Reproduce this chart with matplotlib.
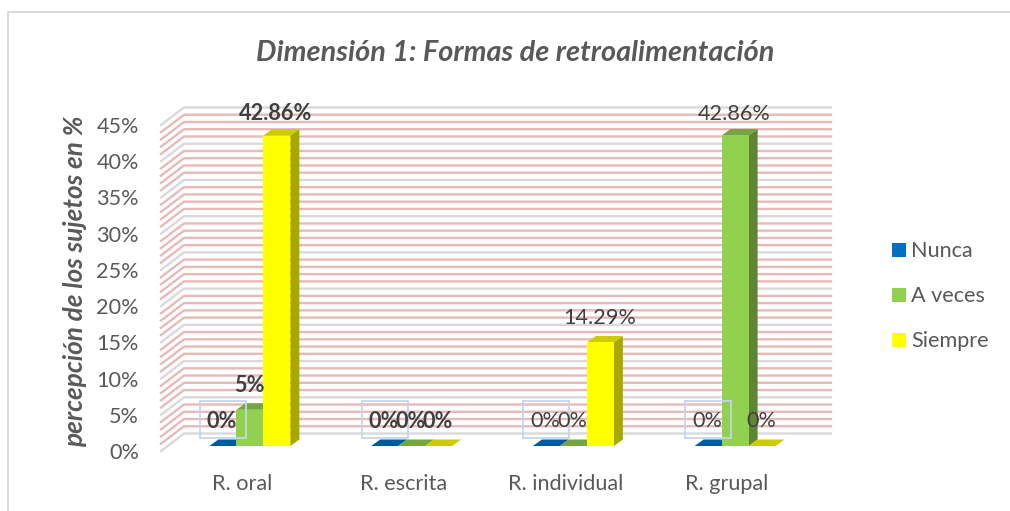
import numpy as np
import matplotlib
matplotlib.use('Agg')
import matplotlib.pyplot as plt
from matplotlib.lines import Line2D
from matplotlib.patches import Polygon, Rectangle

plt.rcParams['font.family'] = ['Lato', 'DejaVu Sans']

categorias = ['R. oral', 'R. escrita', 'R. individual', 'R. grupal']
series = ['Nunca', 'A veces', 'Siempre']
nunca = [0, 0, 0, 0]
a_veces = [5, 0, 0, 42.86]
siempre = [42.86, 0, 14.29, 0]
rotulos_nunca = ['0%', '0%', '0%', '0%']
rotulos_a_veces = ['5%', '0%', '0%', '42.86%']
rotulos_siempre = ['42.86%', '0%', '14.29%', '0%']
negrito = [True, True, False, False]
ticks_y = [0, 5, 10, 15, 20, 25, 30, 35, 40, 45]
menores_y = [v for v in range(0, 45) if v % 5 != 0]

cores = ['#005A9E', '#92D050', '#FFFF00']
cores_topo = ['#005A9E', '#74A640', '#CCCC00']
cores_lado = ['#00437A', '#5E8632', '#A8A800']
cores_legenda = ['#0070C0', '#92D050', '#FFFF00']

W, H = 1010, 511
fig = plt.figure(figsize=(W / 100, H / 100), dpi=100)
fig.patch.set_facecolor('white')

# moldura do grafico (so aparece em cima e na esquerda)
fig.add_artist(Line2D([8 / W, 8 / W, 1], [0, 1 - 12 / H, 1 - 12 / H], transform=fig.transFigure,
                      color='#D9D9D9', lw=1.4))

esq, dir_, topo, base = 161, 808, 125, 451
ax = fig.add_axes([esq / W, 1 - base / H, (dir_ - esq) / W, (base - topo) / H])
ax.set_xlim(-0.5, 3.5)
ax.set_ylim(0, 45)
ax.patch.set_alpha(0)
for s in ax.spines.values():
    s.set_visible(False)

px = 4 / (dir_ - esq)      # unidades de x por pixel
py = 45 / (base - topo)    # unidades de y por pixel

# parede do fundo e parede lateral
prof_x, prof_y = 23 * px, 17.5 * py
for v, cor in [(m, '#E8B9B9') for m in menores_y] + [(t, '#D9D9D9') for t in ticks_y]:
    ax.plot([-0.5, -0.5 + prof_x, 3.5 + prof_x], [v, v + prof_y, v + prof_y],
            color=cor, lw=1.7, clip_on=False, zorder=1, solid_joinstyle='miter')

# barras
larg = 27 * px
x0, y0 = 8 * px, 5 * py         # deslocamento da base da barra
dx, dy = 9 * px, 6.5 * py       # profundidade da barra
for j, valores in enumerate([nunca, a_veces, siempre]):
    for i, v in enumerate(valores):
        xe = i + (j - 1.5) * larg + x0
        xd = xe + larg
        ordem = 3 + j * 0.1
        ax.add_patch(Polygon([(xd, y0), (xd + dx, y0 + dy), (xd + dx, y0 + dy + v), (xd, y0 + v)],
                             fc=cores_lado[j], ec='none', zorder=ordem, clip_on=False))
        ax.add_patch(Polygon([(xe, y0 + v), (xd, y0 + v), (xd + dx, y0 + v + dy), (xe + dx, y0 + v + dy)],
                             fc=cores_topo[j], ec='none', zorder=ordem, clip_on=False))
        if v > 0:
            ax.add_patch(Rectangle((xe, y0), larg, v, fc=cores[j], ec='none', zorder=ordem + 0.01, clip_on=False))

# caixas dos rotulos da serie Nunca
for i in range(4):
    xe = i - 42 * px
    ax.add_patch(Rectangle((xe, 13.5 * py), 46 * px, 36.5 * py, fill=False, ec='#C5D6EA', lw=1.3,
                           zorder=5, clip_on=False))

# rotulos de dados
def rotulo(x, y, texto, peso):
    ax.text(x, y, texto, ha='center', va='center', fontsize=15.6, color='#404040',
            fontweight=peso, zorder=6, clip_on=False)

for i in range(4):
    peso = 'bold' if negrito[i] else 'normal'
    rotulo(i - 20 * px, 30 * py, rotulos_nunca[i], peso)
    for valores, textos, xp in [(a_veces, rotulos_a_veces, 7), (siempre, rotulos_siempre, 34)]:
        v = valores[i]
        if v > 0:
            folga = 22 if v > 40 else 24
            rotulo(i + xp * px, y0 + v + folga * py, textos[i], peso)
        else:
            rotulo(i + xp * px, 30 * py, textos[i], peso)

# eixos
ax.set_yticks(ticks_y)
ax.set_yticklabels([f'{t}%' for t in ticks_y])
ax.set_xticks(range(4))
ax.set_xticklabels(categorias)
ax.tick_params(axis='both', length=0, labelcolor='#595959')
ax.tick_params(axis='y', labelsize=15.6, pad=16)
ax.tick_params(axis='x', labelsize=15.6, pad=16.5)
ax.set_ylabel('percepción de los sujetos en %', fontsize=18.8, fontweight='bold', fontstyle='italic',
              color='#595959')
ax.yaxis.set_label_coords((87 - esq) / (dir_ - esq), (base - 281) / (base - topo))

fig.text(515 / W, 1 - 53 / H, 'Dimensión 1: Formas de retroalimentación', ha='center', va='center',
         fontsize=20.8, fontweight='bold', fontstyle='italic', color='#595959')

# legenda
for nome, cor, yp in zip(series, cores_legenda, [250, 295, 340]):
    fig.add_artist(Rectangle((892 / W, 1 - (yp + 7) / H), 14 / W, 14 / H, transform=fig.transFigure,
                             fc=cor, ec='none'))
    fig.text(911 / W, 1 - (yp + 1) / H, nome, ha='left', va='center', fontsize=15.6, color='#595959')

fig.savefig('out.png', dpi=100)
